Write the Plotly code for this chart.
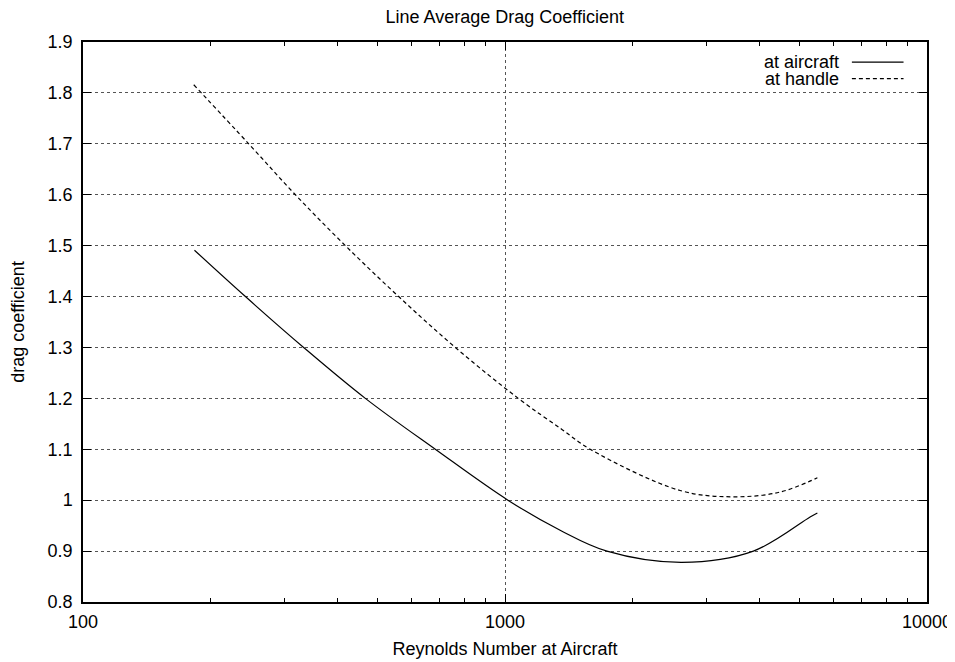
import plotly.graph_objects as go

# Data
re_aircraft = [183.7, 242.6, 333.3, 466.7, 683.6, 1016, 1351, 1744, 2625, 3878, 5284, 5498]
cd_aircraft = [1.491, 1.40, 1.30, 1.20, 1.10, 1.00, 0.941, 0.90, 0.878, 0.90, 0.967, 0.975]

re_handle = [183, 247.0, 318.6, 418.5, 559.8, 762.5, 1075, 1364, 1592, 2600, 3472, 4487, 5498]
cd_handle = [1.816, 1.70, 1.60, 1.50, 1.40, 1.30, 1.20, 1.139, 1.10, 1.019, 1.0066, 1.016, 1.044]

series_names = ["at aircraft", "at handle"]
x_ticks = [100, 1000, 10000]
x_tick_labels = ["100", "1000", "10000"]
y_ticks = [0.8, 0.9, 1.0, 1.1, 1.2, 1.3, 1.4, 1.5, 1.6, 1.7, 1.8, 1.9]
y_tick_labels = ["0.8", "0.9", "1", "1.1", "1.2", "1.3", "1.4", "1.5", "1.6", "1.7", "1.8", "1.9"]

FONT = "Liberation Sans, Arial, Helvetica, sans-serif"
FS = 18

fig = go.Figure()
fig.add_trace(go.Scatter(x=re_aircraft, y=cd_aircraft, mode="lines", name=series_names[0],
                         line=dict(color="black", width=1.2, shape="spline", smoothing=1.0),
                         showlegend=False))
fig.add_trace(go.Scatter(x=re_handle, y=cd_handle, mode="lines", name=series_names[1],
                         line=dict(color="black", width=1.2, shape="spline", smoothing=1.0, dash="4px,3px"),
                         showlegend=False))

# Legend drawn gnuplot-style: text on the left, sample line on the right
legend_rows = [(0.964, "solid"), (0.9346, "4px,3px")]
for name, (yy, dash) in zip(series_names, legend_rows):
    fig.add_annotation(xref="paper", yref="paper", x=0.8946, y=yy, text=name, showarrow=False,
                       xanchor="right", yanchor="middle", xshift=2, borderpad=0,
                       font=dict(family=FONT, size=FS, color="black"))
    fig.add_shape(type="line", xref="paper", yref="paper", x0=0.911, x1=0.9722, y0=yy, y1=yy,
                  line=dict(color="black", width=1.2, dash=dash))

# page body has an 8px margin: figure is placed at (8, 8)
W, H = 947, 654
fig.update_layout(
    width=W, height=H,
    margin=dict(l=74.5, r=28, t=33.7, b=60.3),
    paper_bgcolor="white", plot_bgcolor="white",
    font=dict(family=FONT, size=FS, color="black"),
    title=dict(text="Line Average Drag Coefficient", x=496.75 / W, xanchor="center",
               y=1 - 2.5 / H, yanchor="top",
               font=dict(family=FONT, size=FS, color="black")),
    showlegend=False,
)
fig.update_xaxes(
    type="log", range=[2, 4], tickvals=x_ticks, ticktext=x_tick_labels,
    showline=True, linecolor="black", linewidth=1.5, mirror="ticks",
    ticks="inside", ticklen=8, tickcolor="black", tickwidth=1,
    showgrid=True, gridcolor="#555", griddash="dot", gridwidth=1,
    minor=dict(ticks="inside", ticklen=4, tickcolor="black", dtick="D1", showgrid=False),
    zeroline=False, tickfont=dict(size=FS), automargin=False, ticklabelstandoff=3,
    title=dict(text="Reynolds Number at Aircraft", font=dict(size=FS), standoff=11),
)
fig.update_yaxes(
    range=[0.8, 1.9], tickvals=y_ticks, ticktext=y_tick_labels,
    showline=True, linecolor="black", linewidth=1.5, mirror="ticks",
    ticks="inside", ticklen=8, tickcolor="black", tickwidth=1,
    showgrid=True, gridcolor="#555", griddash="dot", gridwidth=1,
    zeroline=False, tickfont=dict(size=FS), automargin=False, ticklabelstandoff=5,
    title=dict(text="drag coefficient", font=dict(size=FS), standoff=18),
)

fig.write_html("out.html")
